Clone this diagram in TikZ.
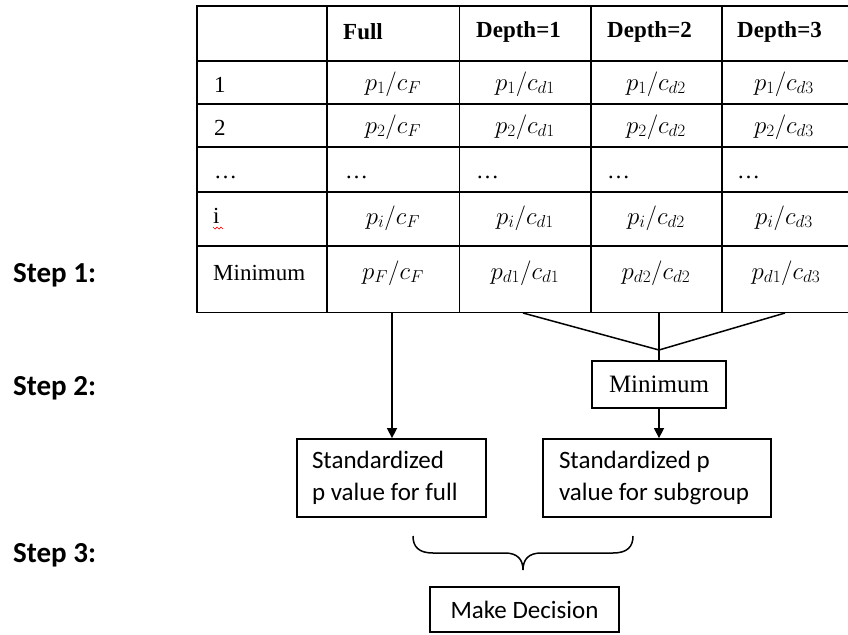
\documentclass[tikz,border=0pt]{standalone}
\usepackage{fontspec}
\setmainfont{Liberation Serif}
\newfontfamily\calibri{Carlito}
\usetikzlibrary{arrows.meta}
\tikzset{
  tline/.style={line width=1.4pt},
  tthick/.style={line width=2.6pt},
  hdr/.style={font=\fontsize{23}{27}\selectfont\bfseries, inner sep=0pt},
  cell/.style={font=\fontsize{23}{27}\selectfont, inner sep=0pt},
  mcell/.style={font=\fontsize{25}{30}\selectfont, inner sep=0pt},
  steplab/.style={font=\calibri\bfseries\fontsize{29}{34}\selectfont, inner sep=0pt, anchor=west},
  boxnode/.style={draw, line width=1.8pt, inner sep=0pt},
  sbox/.style={draw, line width=1.8pt, align=flush left, inner ysep=0pt, minimum height=78pt,
    font=\calibri\fontsize{25}{32}\selectfont},
  conn/.style={line width=1.5pt},
  arrowconn/.style={line width=1.5pt, -{Triangle[length=10pt,width=10pt]}},
}
\begin{document}
\begin{tikzpicture}[x=1pt,y=-1pt]
\useasboundingbox (0,0) rectangle (848,634);
% table grid
\draw[tthick] (196,6) -- (848,6);
\draw[tline] (197,61) -- (848,61);
\draw[tline] (197,104) -- (848,104);
\draw[tline] (197,147) -- (848,147);
\draw[tline] (197,192) -- (848,192);
\draw[tthick] (196,246) -- (848,246);
\draw[tline] (196.5,312.5) -- (848,312.5);
\draw[tthick] (197,6) -- (197,246);
\draw[tline] (197,246) -- (197,313);
\foreach \xx in {327,459.5,591,722} \draw[tline] (\xx,6) -- (\xx,313);
% header
\node[hdr, anchor=west] (hfull) at (343,32) {Full};
\node[hdr, anchor=west] (hd1) at (476,32) {Depth=1};
\node[hdr, anchor=west] (hd2) at (607,32) {Depth=2};
\node[hdr, anchor=west] (hd3) at (737,32) {Depth=3};
% left column
\node[cell, anchor=west] (r1) at (214,85) {1};
\node[cell, anchor=west] (r2) at (214,128) {2};
\node[cell, anchor=west] (r3) at (214,177) {…};
\node[cell, anchor=west] (r4) at (213,216) {i};
\node[cell, anchor=west] (r5) at (213,273) {Minimum};
\draw[red, line width=0.7pt] (213,227) -- (215,229) -- (217,227) -- (219,229) -- (221,227) -- (223,229);
% row 1
\node[mcell] (c11) at (393,84) {$p_1/c_F$};
\node[mcell] (c12) at (525,84) {$p_1/c_{d1}$};
\node[mcell] (c13) at (656,84) {$p_1/c_{d2}$};
\node[mcell] (c14) at (784,84) {$p_1/c_{d3}$};
% row 2
\node[mcell] (c21) at (393,127) {$p_2/c_F$};
\node[mcell] (c22) at (525,127) {$p_2/c_{d1}$};
\node[mcell] (c23) at (656,127) {$p_2/c_{d2}$};
\node[mcell] (c24) at (784,127) {$p_2/c_{d3}$};
% dots row
\node[cell, anchor=west] (c31) at (345,177) {…};
\node[cell, anchor=west] (c32) at (476,177) {…};
\node[cell, anchor=west] (c33) at (607,177) {…};
\node[cell, anchor=west] (c34) at (737,177) {…};
% row i
\node[mcell] (c41) at (393,218) {$p_i/c_F$};
\node[mcell] (c42) at (525,218) {$p_i/c_{d1}$};
\node[mcell] (c43) at (656,218) {$p_i/c_{d2}$};
\node[mcell] (c44) at (784,218) {$p_i/c_{d3}$};
% minimum row
\node[mcell] (c51) at (393,273) {$p_F/c_F$};
\node[mcell] (c52) at (525,273) {$p_{d1}/c_{d1}$};
\node[mcell] (c53) at (656,273) {$p_{d2}/c_{d2}$};
\node[mcell] (c54) at (786,273) {$p_{d1}/c_{d3}$};
% step labels
\node[steplab] (s1) at (13,275) {Step 1:};
\node[steplab] (s2) at (13,388) {Step 2:};
\node[steplab] (s3) at (13,555) {Step 3:};
% coordinates on table bottom
\coordinate (fullbot) at (392,313);
\coordinate (vl) at (523,313);
\coordinate (vr) at (785,313);
\coordinate (vmid) at (659,313);
\coordinate (vmeet) at (659,350);
% boxes
\node[boxnode, minimum width=134pt, minimum height=47pt, font=\fontsize{25}{29}\selectfont] (minbox) at (659,384.5) {Minimum};
\node[sbox, text width=159pt, inner xsep=15pt] (stdfull) at (391.5,478) {Standardized\\p value for full};
\node[sbox, text width=196pt, inner xsep=16pt] (stdsub) at (657,478) {Standardized p\\value for subgroup};
\node[boxnode, minimum width=189pt, minimum height=45pt, font=\calibri\fontsize{25}{30}\selectfont] (decide) at (524.5,609.5) {Make Decision};
% connectors
\draw[arrowconn] (fullbot) -- (fullbot |- stdfull.north);
\draw[conn] (vl) -- (vmeet) -- (vr);
\draw[conn] (vmid) -- (minbox.north);
\draw[arrowconn] (minbox.south) -- (minbox.south |- stdsub.north);
% brace
\draw[conn] (413,536) .. controls (413,547) and (419,553) .. (433,553) -- (505,553)
  .. controls (517,553) and (523,559) .. (523,570)
  .. controls (523,559) and (529,553) .. (541,553) -- (613,553)
  .. controls (627,553) and (633,547) .. (633,536);
\end{tikzpicture}
\end{document}
